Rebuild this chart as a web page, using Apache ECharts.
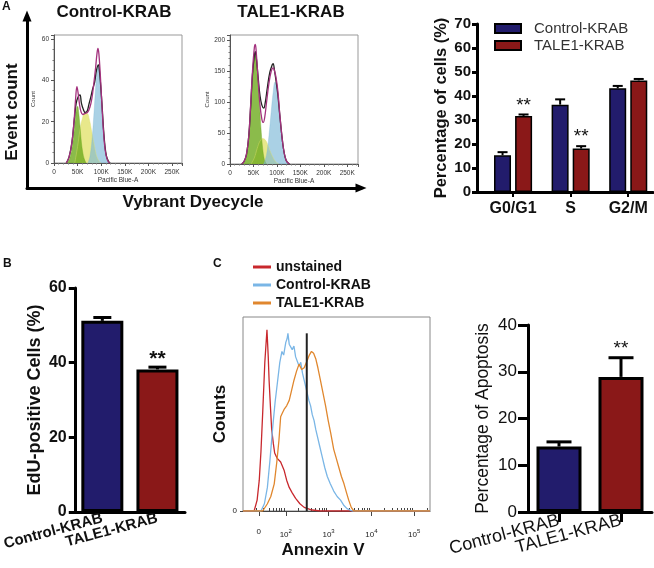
<!DOCTYPE html>
<html><head><meta charset="utf-8">
<script src="https://cdn.jsdelivr.net/npm/echarts@6/dist/echarts.min.js"></script>
<style>html,body{margin:0;padding:0;background:#fff}#c{width:654px;height:568px}</style>
</head><body><div id="c"></div>
<script>
// ---------------- DATA ----------------
// Panel A flow histograms (x in K units of Pacific Blue-A, y = count)
const ctrlG1 = [[28,0],[33,2],[38,7],[42,14],[45,21],[48,26.5],[50,27.5],[52,25],[55,18],[58,10],[61,5],[64,2],[68,0]];
const ctrlS  = [[44,0],[50,8],[55,16],[60,21.5],[65,24],[70,24],[75,21],[80,15],[85,9],[90,3.5],[95,1],[99,0]];
const ctrlG2 = [[72,0],[76,3],[80,10],[84,22],[88,36],[91,44],[94,47.5],[96,45],[99,36],[102,25],[105,14],[108,7],[111,2.5],[115,0]];
const ctrlFit = [[26,0],[32,3],[38,10],[43,22],[46,32],[48.5,37],[51,34],[54,28.5],[57,25],[61,23.5],[66,24],[71,24.5],[76,27],[80,31],[84,38],[88,46],[91,53],[93,55.5],[95,53],[98,43],[101,30],[104,18],[107,9],[110,4],[114,1],[118,0]];
const ctrlObs = [[26,0],[32,3],[38,10],[43,21],[47,29],[51,32],[55,33],[58,29],[62,26],[66,24.5],[70,25],[74,28.5],[78,32],[82,36],[86,39],[90,45],[94,47.5],[96,45],[99,37],[102,27],[105,16],[108,8],[111,3.5],[115,1],[119,0]];

const taleG1 = [[28,0],[34,8],[39,35],[43,75],[47,125],[51,165],[54,178],[57,165],[60,135],[63,95],[66,58],[69,30],[72,12],[75,3],[78,0]];
const taleS  = [[45,0],[52,10],[58,25],[64,37],[70,41],[75,39],[80,32],[86,20],[92,10],[98,3],[104,0]];
const taleG2 = [[72,0],[78,15],[83,45],[88,85],[92,115],[96,132],[99,128],[102,110],[106,75],[110,45],[114,22],[118,9],[122,3],[127,0]];
const taleFit = [[25,0],[30,4],[35,15],[40,45],[44,95],[48,150],[52,188],[54,193],[56,180],[60,135],[64,95],[68,72],[71,67],[74,75],[78,100],[83,130],[88,150],[92,155],[95,150],[98,140],[102,118],[106,82],[110,50],[114,25],[118,10],[122,3],[127,0]];
const taleObs = [[25,0],[30,4],[35,15],[40,45],[44,92],[48,145],[52,175],[54,181],[56,172],[60,140],[64,110],[68,95],[72,90],[75,98],[80,125],[85,148],[90,160],[92,162],[95,150],[98,135],[102,112],[106,80],[110,50],[114,25],[118,10],[122,3],[127,0]];

// Panel A bar chart
const phases = ['G0/G1', 'S', 'G2/M'];
const ctrlPhase = [15.3, 36.4, 43.2];
const ctrlPhaseErr = [1.3, 2.2, 1.0];
const ctrlPhaseSig = ['', '', ''];
const talePhase = [31.7, 18.1, 46.5];
const talePhaseErr = [0.6, 1.0, 0.6];
const talePhaseSig = ['**', '**', ''];

// Panel B
const groups = ['Control-KRAB', 'TALE1-KRAB'];
const eduPct = [51.2, 38.2];
const eduErr = [0.9, 0.6];
const eduSig = ['', '**'];

// Panel C histogram (x in biexponential display decades, y = % of max count)
const unstainedHist = [[1.0,0],[1.26,0],[1.33,6],[1.38,17],[1.42,33],[1.46,54],[1.51,82],[1.56,100],[1.59,85],[1.61,72],[1.64,58],[1.67,45],[1.71,37],[1.74,32],[1.80,29],[1.88,27],[1.96,22.5],[2.02,17],[2.08,13],[2.15,10],[2.23,7],[2.33,4],[2.43,2],[2.58,0.7],[2.8,0],[5.37,0]];
const ctrlHist = [[1.0,0],[1.42,0],[1.5,4],[1.57,13],[1.63,28],[1.69,45],[1.75,60],[1.81,72],[1.86,82],[1.91,88],[1.95,86],[2.0,93],[2.03,95],[2.05,98],[2.08,92],[2.12,93],[2.15,89],[2.19,91],[2.23,85],[2.27,84],[2.31,80],[2.35,82],[2.39,76],[2.43,72],[2.47,68],[2.50,65],[2.54,61],[2.58,58],[2.62,53],[2.66,50],[2.70,45],[2.74,41],[2.79,36],[2.85,30],[2.91,24],[2.97,19],[3.04,15],[3.12,11],[3.2,8],[3.28,6],[3.36,3],[3.43,1.3],[3.55,0],[5.37,0]];
const taleHist = [[1.0,0],[1.46,0],[1.57,4],[1.65,8],[1.73,15],[1.79,27],[1.84,39],[1.88,52],[1.92,54],[1.96,56],[2.02,58],[2.08,61],[2.13,66],[2.19,72],[2.25,77],[2.31,81],[2.37,78],[2.43,79],[2.47,80],[2.50,83],[2.55,86],[2.60,88],[2.65,87],[2.70,84],[2.75,79],[2.81,72],[2.87,65],[2.93,58],[2.99,50],[3.05,43],[3.12,34],[3.18,29],[3.24,24],[3.30,19],[3.36,15],[3.42,10],[3.47,6],[3.53,2],[3.59,0],[5.37,0]];
const gateX = 2.49;
const gateTop = 98;
const annexinTickVals = [1.37, 2, 3, 4, 5];
const annexinTickText = ['0', '10{s|2}', '10{s|3}', '10{s|4}', '10{s|5}'];

// Panel C bar chart
const apopPct = [14.0, 28.9];
const apopErr = [1.0, 4.1];
const apopSig = ['', '**'];

// ---------------- STYLE ----------------
const FF = '"Liberation Sans", Arial, Helvetica, sans-serif';
const NAVY = '#221c6c';
const RED = '#8a1818';
const groupColors = [NAVY, RED];

function flowX(gi, max) {
  return {gridIndex: gi, type: 'value', min: 0, max: max, interval: 50,
    name: 'Pacific Blue-A', nameLocation: 'middle', nameGap: 14,
    nameTextStyle: {fontFamily: FF, fontSize: 6.5, color: '#333'},
    axisLine: {show: true, lineStyle: {color: '#555', width: 1}},
    axisTick: {show: true, length: 3, lineStyle: {color: '#555'}},
    minorTick: {show: true, splitNumber: 5, length: 1.5, lineStyle: {color: '#777'}},
    axisLabel: {fontFamily: FF, fontSize: 6.5, color: '#333', margin: 6, showMaxLabel: false,
      formatter: v => v === 0 ? '0' : v + 'K'},
    splitLine: {show: false}};
}
function flowY(gi, max, interval, minorSplit) {
  return {gridIndex: gi, type: 'value', min: 0, max: max, interval: interval,
    name: 'Count', nameLocation: 'middle', nameGap: 18,
    nameTextStyle: {fontFamily: FF, fontSize: 6, color: '#333'},
    axisLine: {show: true, lineStyle: {color: '#555', width: 1}},
    axisTick: {show: true, length: 3, lineStyle: {color: '#555'}},
    minorTick: {show: true, splitNumber: minorSplit, length: 1.5, lineStyle: {color: '#777'}},
    axisLabel: {fontFamily: FF, fontSize: 6.5, color: '#333', margin: 5, showMaxLabel: false},
    splitLine: {show: false}};
}
function flowArea(data, color, idx) {
  return {type: 'line', xAxisIndex: idx, yAxisIndex: idx, data: data, smooth: 0.4, symbol: 'none', silent: true,
    lineStyle: {width: 0.5, color: color}, itemStyle: {color: color}, areaStyle: {color: color, opacity: 1}, z: 2};
}
function flowLine(data, color, idx, z) {
  return {type: 'line', xAxisIndex: idx, yAxisIndex: idx, data: data, smooth: 0.4, symbol: 'none', silent: true,
    lineStyle: {width: 1.3, color: color}, itemStyle: {color: color}, z: z};
}
function errSeries(xi, yi, xs, vals, errs, sigs, offset, capW, lw, font, lift) {
  return {type: 'custom', xAxisIndex: xi, yAxisIndex: yi, z: 6, silent: true,
    data: vals.map((v, i) => [xs[i], v, errs[i]]),
    renderItem: function (params, api) {
      const x = api.value(0), v = api.value(1), e = api.value(2);
      const p0 = api.coord([x, v]);
      const p1 = api.coord([x, v + e]);
      const cx = p0[0] + offset;
      const ch = [
        {type: 'line', shape: {x1: cx, y1: p0[1], x2: cx, y2: p1[1]}, style: {stroke: '#000', lineWidth: lw}},
        {type: 'line', shape: {x1: cx - capW / 2, y1: p1[1], x2: cx + capW / 2, y2: p1[1]}, style: {stroke: '#000', lineWidth: lw}}
      ];
      const s = sigs[params.dataIndex];
      if (s) ch.push({type: 'text', style: {text: s, x: cx, y: p1[1] - lift, align: 'center', verticalAlign: 'middle',
        textAlign: 'center', textVerticalAlign: 'middle', font: font, fill: '#111'}});
      return {type: 'group', children: ch};
    }};
}

const minorAnnexin = [];
for (let n = 1; n <= 4; n++) for (let k = 2; k <= 9; k++) { const t = n + Math.log10(k); if (t < 5.37) minorAnnexin.push(t); }
minorAnnexin.push(5 + Math.log10(2));

const phaseX = phases.map((_, i) => i + 1);

const option = {
  animation: false,
  backgroundColor: '#fff',
  textStyle: {fontFamily: FF},
  grid: [
    {left: 27, top: 16, width: 334, height: 172},                                   // 0 arrows
    {left: 54, top: 35, width: 128, height: 128, show: true, borderColor: '#999', borderWidth: 1},  // 1 A ctrl hist
    {left: 230, top: 35, width: 128, height: 129, show: true, borderColor: '#999', borderWidth: 1}, // 2 A tale hist
    {left: 477, top: 24, width: 176, height: 168},                                  // 3 A bars
    {left: 72, top: 288, width: 113, height: 224},                                  // 4 B bars
    {left: 243, top: 317, width: 187, height: 194, show: true, borderColor: '#888', borderWidth: 1}, // 5 C hist
    {left: 528, top: 325, width: 124, height: 187}                                  // 6 C bars
  ],
  legend: [
    {data: groups, left: 494, top: 21, padding: 0, orient: 'vertical', icon: 'rect', itemWidth: 26, itemHeight: 9, itemGap: 2,
      selectedMode: false, textStyle: {fontFamily: FF, fontSize: 15, color: '#333', padding: [0, 0, 0, 8], lineHeight: 15}},
    {data: [
        {name: 'unstained', itemStyle: {color: '#c8282d', borderWidth: 0}},
        {name: 'Control-KRAB', itemStyle: {color: '#7ab6e6', borderWidth: 0}},
        {name: 'TALE1-KRAB', itemStyle: {color: '#e0872e', borderWidth: 0}}],
      left: 253, top: 260, padding: 0, orient: 'vertical', icon: 'rect', itemWidth: 18, itemHeight: 3, itemGap: 4,
      selectedMode: false, textStyle: {fontFamily: FF, fontSize: 14, fontWeight: 'bold', color: '#111', lineHeight: 14}}
  ],
  xAxis: [
    {gridIndex: 0, type: 'value', min: 0, max: 1,
      axisLine: {show: true, lineStyle: {color: '#000', width: 3}, symbol: ['none', 'triangle'], symbolSize: [9, 11]},
      axisTick: {show: false}, axisLabel: {show: false}, splitLine: {show: false}},
    flowX(1, 271),
    flowX(2, 273),
    {gridIndex: 3, type: 'value', min: 0.374, max: 3.43,
      axisLine: {show: true, onZero: false, lineStyle: {color: '#000', width: 3}},
      axisTick: {show: true, customValues: phaseX, length: 5, lineStyle: {color: '#000', width: 2}},
      axisLabel: {customValues: phaseX, formatter: v => phases[Math.round(v) - 1], fontFamily: FF, fontSize: 16, fontWeight: 'bold', color: '#111', margin: 9},
      splitLine: {show: false}},
    {gridIndex: 4, type: 'category', data: groups,
      axisLine: {show: true, lineStyle: {color: '#000', width: 3}},
      axisTick: {show: false},
      axisLabel: {rotate: 15, interval: 0, fontFamily: FF, fontSize: 15, fontWeight: 'bold', color: '#111', margin: 6},
      splitLine: {show: false}},
    {gridIndex: 5, type: 'value', min: 1.0, max: 5.37,
      axisLine: {show: true, onZero: false, lineStyle: {color: '#444', width: 1}},
      axisTick: {show: true, customValues: annexinTickVals, length: 5, lineStyle: {color: '#444'}},
      axisLabel: {customValues: annexinTickVals, formatter: v => annexinTickText[annexinTickVals.indexOf(v)],
        fontFamily: FF, fontSize: 8, color: '#222', margin: 17,
        rich: {s: {fontFamily: FF, fontSize: 6, color: '#222', padding: [0, 0, 7, 0]}}},
      splitLine: {show: false}},
    {gridIndex: 5, type: 'value', min: 1.0, max: 5.37,
      axisLine: {show: false},
      axisTick: {show: true, customValues: minorAnnexin, length: 3, lineStyle: {color: '#444'}},
      axisLabel: {show: false}, splitLine: {show: false}},
    {gridIndex: 6, type: 'category', data: groups,
      axisLine: {show: true, lineStyle: {color: '#000', width: 3}},
      axisTick: {show: true, alignWithLabel: true, length: 10, lineStyle: {color: '#000', width: 3}},
      axisLabel: {rotate: 15, interval: 0, fontFamily: FF, fontSize: 18, color: '#111', margin: 8},
      splitLine: {show: false}}
  ],
  yAxis: [
    {gridIndex: 0, type: 'value', min: 0, max: 1,
      axisLine: {show: true, lineStyle: {color: '#000', width: 3}, symbol: ['none', 'triangle'], symbolSize: [9, 11]},
      axisTick: {show: false}, axisLabel: {show: false}, splitLine: {show: false}},
    flowY(1, 62, 20, 4),
    flowY(2, 208, 50, 5),
    {gridIndex: 3, type: 'value', min: 0, max: 70, interval: 10,
      name: 'Percentage of cells (%)', nameLocation: 'middle', nameGap: 26,
      nameTextStyle: {fontFamily: FF, fontSize: 16.5, fontWeight: 'bold', color: '#111'},
      axisLine: {show: true, lineStyle: {color: '#000', width: 3}},
      axisTick: {show: true, length: 5, lineStyle: {color: '#000', width: 3}},
      axisLabel: {fontFamily: FF, fontSize: 15, fontWeight: 'bold', color: '#111', margin: 6},
      splitLine: {show: false}},
    {gridIndex: 4, type: 'value', min: 0, max: 60, interval: 20,
      name: 'EdU-positive Cells (%)', nameLocation: 'middle', nameGap: 31,
      nameTextStyle: {fontFamily: FF, fontSize: 18, fontWeight: 'bold', color: '#111'},
      axisLine: {show: true, lineStyle: {color: '#000', width: 3}},
      axisTick: {show: true, length: 6, lineStyle: {color: '#000', width: 3}},
      axisLabel: {fontFamily: FF, fontSize: 16, fontWeight: 'bold', color: '#111', margin: 8},
      splitLine: {show: false}},
    {gridIndex: 5, type: 'value', min: 0, max: 107,
      name: 'Counts', nameLocation: 'middle', nameGap: 11,
      nameTextStyle: {fontFamily: FF, fontSize: 17, fontWeight: 'bold', color: '#111'},
      axisLine: {show: false},
      axisTick: {show: true, customValues: [0], length: 3, lineStyle: {color: '#444'}},
      axisLabel: {customValues: [0], fontFamily: FF, fontSize: 8, color: '#222', margin: 6},
      splitLine: {show: false}},
    {gridIndex: 6, type: 'value', min: 0, max: 40, interval: 10,
      name: 'Percentage of Apoptosis', nameLocation: 'middle', nameGap: 36,
      nameTextStyle: {fontFamily: FF, fontSize: 17.5, color: '#111'},
      axisLine: {show: true, lineStyle: {color: '#000', width: 3}},
      axisTick: {show: true, length: 10, lineStyle: {color: '#000', width: 3}},
      axisLabel: {fontFamily: FF, fontSize: 17, color: '#111', margin: 11},
      splitLine: {show: false}}
  ],
  graphic: [
    {type: 'text', x: 2, y: 1, style: {text: 'A', font: 'bold 12px ' + FF, fill: '#111'}},
    {type: 'text', x: 3, y: 258, style: {text: 'B', font: 'bold 12px ' + FF, fill: '#111'}},
    {type: 'text', x: 213, y: 258, style: {text: 'C', font: 'bold 12px ' + FF, fill: '#111'}},
    {type: 'text', x: 114, y: 12, style: {text: 'Control-KRAB', font: 'bold 17px ' + FF, fill: '#111', align: 'center', verticalAlign: 'middle', textAlign: 'center', textVerticalAlign: 'middle'}},
    {type: 'text', x: 291, y: 12, style: {text: 'TALE1-KRAB', font: 'bold 17px ' + FF, fill: '#111', align: 'center', verticalAlign: 'middle', textAlign: 'center', textVerticalAlign: 'middle'}},
    {type: 'text', x: 12, y: 112, rotation: Math.PI / 2, style: {text: 'Event count', font: 'bold 17px ' + FF, fill: '#111', align: 'center', verticalAlign: 'middle', textAlign: 'center', textVerticalAlign: 'middle'}},
    {type: 'text', x: 193, y: 202, style: {text: 'Vybrant Dyecycle', font: 'bold 17px ' + FF, fill: '#111', align: 'center', verticalAlign: 'middle', textAlign: 'center', textVerticalAlign: 'middle'}},
    {type: 'text', x: 323, y: 550, style: {text: 'Annexin V', font: 'bold 17px ' + FF, fill: '#111', align: 'center', verticalAlign: 'middle', textAlign: 'center', textVerticalAlign: 'middle'}}
  ],
  series: [
    // A control histogram
    flowArea(ctrlS, 'rgba(226,226,110,0.8)', 1),
    flowArea(ctrlG1, 'rgba(110,170,30,0.8)', 1),
    flowArea(ctrlG2, 'rgba(125,185,215,0.65)', 1),
    flowLine(ctrlObs, '#222', 1, 3),
    flowLine(ctrlFit, '#a3317d', 1, 4),
    // A TALE1 histogram
    flowArea(taleS, 'rgba(226,226,110,0.8)', 2),
    flowArea(taleG1, 'rgba(110,170,30,0.8)', 2),
    flowArea(taleG2, 'rgba(125,185,215,0.65)', 2),
    flowLine(taleObs, '#222', 2, 3),
    flowLine(taleFit, '#a3317d', 2, 4),
    // A bars
    {type: 'bar', name: 'Control-KRAB', xAxisIndex: 3, yAxisIndex: 3, barWidth: 17, barGap: '24%',
      data: ctrlPhase.map((v, i) => [phaseX[i], v]),
      itemStyle: {color: NAVY, borderColor: '#000', borderWidth: 1.5}},
    {type: 'bar', name: 'TALE1-KRAB', xAxisIndex: 3, yAxisIndex: 3, barWidth: 17, barGap: '24%',
      data: talePhase.map((v, i) => [phaseX[i], v]),
      itemStyle: {color: RED, borderColor: '#000', borderWidth: 1.5}},
    errSeries(3, 3, phaseX, ctrlPhase, ctrlPhaseErr, ctrlPhaseSig, -10.5, 10, 2, '19px ' + FF, 9),
    errSeries(3, 3, phaseX, talePhase, talePhaseErr, talePhaseSig, 10.5, 10, 2, '19px ' + FF, 9),
    // B bars
    {type: 'bar', xAxisIndex: 4, yAxisIndex: 4, barWidth: 42,
      data: eduPct.map((v, i) => ({value: v, itemStyle: {color: groupColors[i]}})),
      itemStyle: {borderColor: '#000', borderWidth: 3}},
    errSeries(4, 4, [0, 1], eduPct, eduErr, eduSig, 0, 18, 3, 'bold 21px ' + FF, 8),
    // C histogram
    {type: 'line', name: 'unstained', xAxisIndex: 5, yAxisIndex: 5, data: unstainedHist, symbol: 'none', silent: true,
      lineStyle: {width: 1.3, color: '#c8282d'}, itemStyle: {color: '#c8282d'}, z: 3},
    {type: 'line', name: 'Control-KRAB', xAxisIndex: 5, yAxisIndex: 5, data: ctrlHist, symbol: 'none', silent: true,
      lineStyle: {width: 1.3, color: '#7ab6e6'}, itemStyle: {color: '#7ab6e6'}, z: 3},
    {type: 'line', name: 'TALE1-KRAB', xAxisIndex: 5, yAxisIndex: 5, data: taleHist, symbol: 'none', silent: true,
      lineStyle: {width: 1.3, color: '#e0872e'}, itemStyle: {color: '#e0872e'}, z: 3},
    {type: 'line', xAxisIndex: 5, yAxisIndex: 5, data: [[gateX, 0], [gateX, gateTop]], symbol: 'none', silent: true,
      lineStyle: {width: 2, color: '#222'}, itemStyle: {color: '#222'}, z: 4},
    // C bars
    {type: 'bar', xAxisIndex: 7, yAxisIndex: 6, barWidth: 45,
      data: apopPct.map((v, i) => ({value: v, itemStyle: {color: groupColors[i]}})),
      itemStyle: {borderColor: '#000', borderWidth: 3}},
    errSeries(7, 6, [0, 1], apopPct, apopErr, apopSig, 0, 25, 3, '19px ' + FF, 9)
  ]
};

const chart = echarts.init(document.getElementById('c'), null, {renderer: 'canvas'});
chart.setOption(option);
</script></body></html>
